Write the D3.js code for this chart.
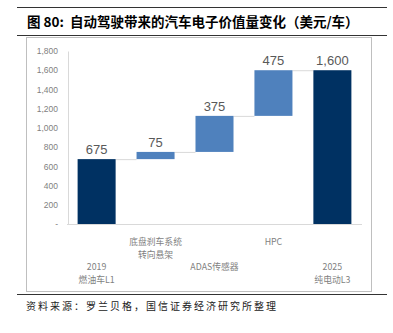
<!DOCTYPE html>
<html><head><meta charset="utf-8">
<script src="https://cdn.jsdelivr.net/npm/d3@7"></script>
<style>body{margin:0;background:#fff;}svg{display:block;}</style>
</head><body>
<script>
const categories = ["2019\n燃油车L1", "底盘刹车系统\n转向悬架", "ADAS传感器", "HPC", "2025\n纯电动L3"];
const values = [675, 75, 375, 475, 1600];
const kinds = ["total", "delta", "delta", "delta", "total"];
const yTicks = [0, 200, 400, 600, 800, 1000, 1200, 1400, 1600, 1800];

const W = 393, H = 333;
const svg = d3.select("body").append("svg").attr("width", W).attr("height", H);
const font = "'Noto Sans CJK SC', 'Noto Sans', sans-serif";

// header rules and title
svg.append("line").attr("x1", 17).attr("x2", 387).attr("y1", 7.5).attr("y2", 7.5).attr("stroke", "#333").attr("stroke-width", 1);
svg.append("line").attr("x1", 17).attr("x2", 387).attr("y1", 35.5).attr("y2", 35.5).attr("stroke", "#333").attr("stroke-width", 1);
const title = svg.append("text").attr("x", 27).attr("y", 27).attr("font-family", font).attr("font-size", 13.5).attr("font-weight", "bold").attr("fill", "#000");
title.append("tspan").text("图 80:");
title.append("tspan").attr("dx", 6).text("自动驾驶带来的汽车电子价值量变化（美元/车）");

// chart box
svg.append("rect").attr("x", 26.5).attr("y", 37.5).attr("width", 345).attr("height", 254).attr("fill", "none").attr("stroke", "#bfbfbf").attr("stroke-width", 1);

// footer
svg.append("line").attr("x1", 17).attr("x2", 387).attr("y1", 294.5).attr("y2", 294.5).attr("stroke", "#333").attr("stroke-width", 1);
svg.append("text").attr("x", 26).attr("y", 310).attr("font-family", font).attr("font-size", 10).attr("letter-spacing", 2).attr("fill", "#222").text("资料来源：罗兰贝格，国信证券经济研究所整理");

// scales
const x = d3.scaleBand().domain(categories).range([67, 362]).paddingInner(0.355).paddingOuter(0.18);
const y = d3.scaleLinear().domain([0, 1800]).range([224, 51]);

// compute waterfall
let cum = 0;
const bars = values.map((v, i) => {
  let y0, y1;
  if (kinds[i] === "total") { y0 = 0; y1 = v; cum = v; }
  else { y0 = cum; y1 = cum + v; cum = y1; }
  return {cat: categories[i], v, y0, y1, kind: kinds[i]};
});

// axes
const yAxis = d3.axisLeft(y).tickValues(yTicks).tickSize(0).tickPadding(10)
  .tickFormat(d => d === 0 ? "-" : d3.format(",")(d));
const ga = svg.append("g").attr("transform", "translate(68,0)").call(yAxis);
ga.select(".domain").attr("stroke", "#d9d9d9");
ga.selectAll("text").attr("font-family", "'Liberation Sans', Arial, sans-serif").attr("font-size", 8.5).attr("fill", "#7f7f7f");

svg.append("line").attr("x1", 67).attr("x2", 362).attr("y1", y(0) + 0.5).attr("y2", y(0) + 0.5).attr("stroke", "#d9d9d9");

// connectors
bars.forEach((b, i) => {
  if (i < bars.length - 1) {
    svg.append("line")
      .attr("x1", x(b.cat) + x.bandwidth()).attr("x2", x(bars[i+1].cat))
      .attr("y1", y(b.y1) + 0.5).attr("y2", y(b.y1) + 0.5)
      .attr("stroke", "#d9d9d9").attr("stroke-width", 1);
  }
});

// bars
svg.selectAll("rect.bar").data(bars).enter().append("rect").attr("class", "bar")
  .attr("x", d => x(d.cat)).attr("width", x.bandwidth())
  .attr("y", d => y(d.y1)).attr("height", d => y(d.y0) - y(d.y1))
  .attr("fill", d => d.kind === "total" ? "#003162" : "#4f81bd");

// value labels
svg.selectAll("text.val").data(bars).enter().append("text").attr("class", "val")
  .attr("x", d => x(d.cat) + x.bandwidth() / 2).attr("y", d => y(d.y1) - 5)
  .attr("text-anchor", "middle").attr("font-family", "'Liberation Sans', Arial, sans-serif").attr("font-size", 13).attr("fill", "#595959")
  .text(d => d3.format(",")(d.v));

// category labels (staggered), one text per line
categories.forEach((c, i) => {
  const lines = c.split("\n");
  const base = i % 2 === 0 ? 269.5 : 244.5;
  lines.forEach((ln, j) => {
    svg.append("text").attr("text-anchor", "middle").attr("font-family", font).attr("font-size", 8.8).attr("fill", "#7f7f7f")
      .attr("x", x(c) + x.bandwidth() / 2).attr("y", base + j * 13).text(ln);
  });
});
</script>
</body></html>
